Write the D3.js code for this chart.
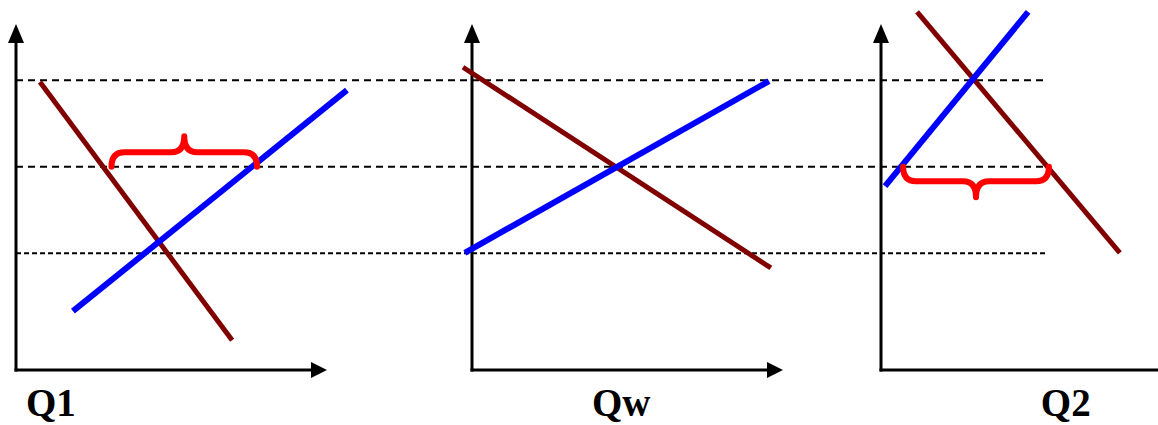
<!DOCTYPE html>
<html>
<head>
<meta charset="utf-8">
<script src="https://cdn.jsdelivr.net/npm/d3@7"></script>
<style>
  html, body { margin: 0; padding: 0; background: #fff; }
  svg { display: block; }
</style>
</head>
<body>
<svg id="chart" width="1158" height="425"></svg>
<script>
// ---- data ----
const panelNames = ["Q1", "Qw", "Q2"];
// price levels: low (domestic 1 autarky), world, high (domestic 2 autarky)
const priceLevels = [2.7, 4.7, 6.7];
// demand (maroon) and supply (blue) lines per panel: [[q0, p0], [q1, p1]]
const demandLines = [
  [[0.77, 6.66], [6.95, 0.69]],
  [[-0.29, 7.0], [9.61, 2.36]],
  [[1.16, 8.28], [7.68, 2.71]]
];
const supplyLines = [
  [[1.83, 1.36], [10.64, 6.47]],
  [[-0.23, 2.71], [9.55, 6.68]],
  [[0.13, 4.25], [4.73, 8.28]]
];
// braces: panel index, q start, q end, price level, direction (-1 opens up / +1 opens down)
const bracePanels = [0, 2];
const braceStarts = [3.07, 0.71];
const braceEnds = [7.75, 5.4];
const braceLevels = [4.7, 4.7];
const braceDirs = [-1, 1];
// label positions (quantity units along each panel's axis)
const labelQ = [0.32, 3.86, 5.14];

// ---- layout ----
const svg = d3.select("#chart");
const panelOrigins = [16, 472, 881];
const axisLen = 311;
const xMax = 10;
const y = d3.scaleLinear().domain([0, 8]).range([370, 24]);
const xScales = panelOrigins.map(o => d3.scaleLinear().domain([0, xMax]).range([o, o + axisLen]));

// dashed price lines spanning all panels
const dashStyles = ["5,3", "7,5", "7,5"];
const dashWidths = [2, 2.2, 2.2];
const dashEndQ = 5.3;
priceLevels.forEach((p, i) => {
  svg.append("line")
    .attr("x1", xScales[0](0)).attr("x2", xScales[2](dashEndQ))
    .attr("y1", y(p)).attr("y2", y(p))
    .attr("stroke", "#000")
    .attr("stroke-width", dashWidths[i])
    .attr("stroke-dasharray", dashStyles[i]);
});

// axes with arrows
const arrowLen = 16, arrowHalf = 8;
xScales.forEach((x, i) => {
  const g = svg.append("g");
  const x0 = x(0), y0 = y(0), yTop = y(8), xRight = x(xMax);
  g.append("line").attr("x1", x0).attr("x2", x0).attr("y1", y0 + 1.5).attr("y2", yTop + arrowLen)
    .attr("stroke", "#000").attr("stroke-width", 3);
  g.append("line").attr("x1", x0 - 1.5).attr("x2", xRight - arrowLen).attr("y1", y0).attr("y2", y0)
    .attr("stroke", "#000").attr("stroke-width", 3);
  g.append("path")
    .attr("d", `M${x0},${yTop}L${x0 - arrowHalf},${yTop + arrowLen + 3}L${x0 + arrowHalf},${yTop + arrowLen + 3}Z`)
    .attr("fill", "#000");
  g.append("path")
    .attr("d", `M${xRight},${y0}L${xRight - arrowLen},${y0 - arrowHalf}L${xRight - arrowLen},${y0 + arrowHalf}Z`)
    .attr("fill", "#000");
});

// supply/demand lines
const lineGen = i => d3.line().x(d => xScales[i](d[0])).y(d => y(d[1]));
demandLines.forEach((pts, i) => {
  svg.append("path").attr("d", lineGen(i)(pts))
    .attr("stroke", "#800000").attr("stroke-width", 5).attr("fill", "none");
});
supplyLines.forEach((pts, i) => {
  svg.append("path").attr("d", lineGen(i)(pts))
    .attr("stroke", "#0000ff").attr("stroke-width", 6).attr("fill", "none");
});

// braces
function bracePath(x1, x2, yb, s, h, t, r) {
  const ya = yb + s * h, xm = (x1 + x2) / 2, yt = yb + s * (h + t);
  return `M${x1},${yb}` +
    `Q${x1},${ya} ${x1 + r},${ya}` +
    `L${xm - r},${ya}` +
    `Q${xm},${ya} ${xm},${yt}` +
    `Q${xm},${ya} ${xm + r},${ya}` +
    `L${x2 - r},${ya}` +
    `Q${x2},${ya} ${x2},${yb}`;
}
bracePanels.forEach((pi, k) => {
  const x = xScales[pi];
  svg.append("path")
    .attr("d", bracePath(x(braceStarts[k]), x(braceEnds[k]), y(braceLevels[k]), braceDirs[k], 14.5, 16, 13))
    .attr("stroke", "#ff0000").attr("stroke-width", 6).attr("fill", "none")
    .attr("stroke-linecap", "round").attr("stroke-linejoin", "round");
});

// labels
panelNames.forEach((name, i) => {
  svg.append("text")
    .attr("x", xScales[i](labelQ[i])).attr("y", 416)
    .attr("font-family", "'Liberation Serif', 'Times New Roman', Times, serif")
    .attr("font-weight", "bold").attr("font-size", 39)
    .attr("fill", "#000")
    .text(name);
});
</script>
</body>
</html>
